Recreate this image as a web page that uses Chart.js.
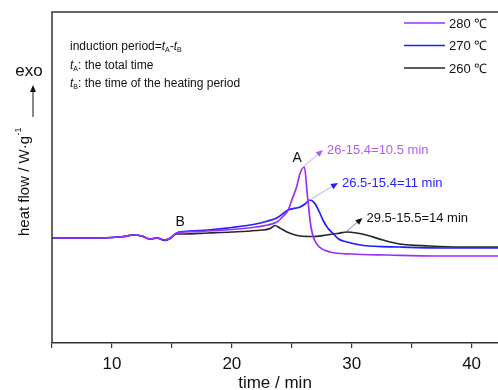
<!DOCTYPE html>
<html>
<head>
<meta charset="utf-8">
<script src="https://cdn.jsdelivr.net/npm/chart.js@4.4.1/dist/chart.umd.min.js"></script>
<style>
  html, body { margin: 0; padding: 0; background: #fff; }
  canvas { display: block; }
</style>
</head>
<body>
<canvas id="dscChart" width="498" height="390"></canvas>
<script>
// DSC heat flow curves (arbitrary units, exo up), time in min
const t280 = [5, 8, 10, 11, 11.75, 12.5, 13.2, 13.75, 14.4, 14.8, 15.4, 16, 18, 20, 22, 23, 23.75, 24.3, 24.7, 25.0, 25.4, 25.7, 26.05, 26.3, 26.6, 26.9, 27.3, 28.2, 30, 33, 37, 42.2];
const q280 = [105, 105, 105.5, 106.5, 108, 107, 104, 105, 103, 104.5, 110, 111, 112, 113.5, 116, 118, 121, 127, 133, 143, 156, 170, 176, 148, 116, 103, 96, 91, 89, 88, 87, 87];

const t270 = [5, 8, 10, 11, 11.75, 12.5, 13.2, 13.75, 14.4, 14.8, 15.4, 16, 18, 20, 22, 23, 23.75, 24.7, 25.7, 26.1, 26.5, 26.9, 27.3, 27.6, 28.0, 28.4, 28.9, 29.6, 31, 34, 38, 42.2];
const q270 = [105, 105, 105.5, 106.5, 108, 107, 104, 105, 103, 104.5, 110, 111.5, 113, 115.5, 119, 122, 125, 133, 136, 139, 143, 140, 131, 123, 115, 110, 104, 101, 97.5, 96, 95, 95];

const t260 = [5, 8, 10, 11, 11.75, 12.5, 13.2, 13.75, 14.4, 14.8, 15.4, 16, 18, 20, 22, 23.2, 23.6, 24.0, 24.6, 25.7, 26.8, 27.9, 28.8, 29.6, 30.4, 31.2, 32.6, 34, 36.5, 39, 42.2];
const q260 = [105, 105, 105.5, 106.5, 108, 107, 104, 105, 102.5, 104, 109, 109, 110, 111, 112.5, 114.5, 117.5, 115, 111, 107, 106.5, 108, 109.5, 111, 110, 108, 103, 99, 97, 96, 96];

const seriesLabels = ['280 \u2103', '270 \u2103', '260 \u2103'];
const seriesColors = ['#9b30f5', '#1f1fff', '#262626'];
const xTickValues = [5, 10, 15, 20, 25, 30, 35, 40];
const xLabelValues = [10, 20, 30, 40];

// annotations: arrow from a curve point to the text
const calloutText = ['26-15.4=10.5 min', '26.5-15.4=11 min', '29.5-15.5=14 min'];
const calloutFrom = [[26.05, 177], [26.5, 143], [29.5, 111]];
const calloutTo = [[27.6, 193], [28.85, 160], [30.9, 125]];
const calloutTextColors = ['#b05cf2', '#1f1fff', '#111'];
const calloutLineColors = ['#cfa6f7', '#a9aefc', '#8a8a8a'];
const pointLabels = [['A', 25.45, 185], ['B', 15.7, 121]];

function toPoints(xs, ys) {
  return xs.map((x, i) => ({ x: x, y: ys[i] }));
}

function arrow(ctx, x1, y1, x2, y2, lineColor, headColor) {
  const ang = Math.atan2(y2 - y1, x2 - x1);
  const hl = 7, hw = 3;
  ctx.strokeStyle = lineColor;
  ctx.lineWidth = 1;
  ctx.beginPath();
  ctx.moveTo(x1, y1);
  ctx.lineTo(x2 - hl * Math.cos(ang), y2 - hl * Math.sin(ang));
  ctx.stroke();
  ctx.fillStyle = headColor;
  ctx.beginPath();
  ctx.moveTo(x2, y2);
  ctx.lineTo(x2 - hl * Math.cos(ang) + hw * Math.sin(ang), y2 - hl * Math.sin(ang) - hw * Math.cos(ang));
  ctx.lineTo(x2 - hl * Math.cos(ang) - hw * Math.sin(ang), y2 - hl * Math.sin(ang) + hw * Math.cos(ang));
  ctx.closePath();
  ctx.fill();
}

// draws "t" italic with a small subscript, returns new x
function tSub(ctx, x, y, sub) {
  ctx.font = 'italic 12px "Liberation Sans", Arial, sans-serif';
  ctx.fillText('t', x, y);
  x += ctx.measureText('t').width;
  ctx.font = '7px "Liberation Sans", Arial, sans-serif';
  ctx.fillText(sub, x, y + 3);
  return x + ctx.measureText(sub).width;
}

const decorPlugin = {
  id: 'decor',
  afterDraw(chart) {
    const { ctx, chartArea: a, scales } = chart;
    const xs = scales.x, ys = scales.y;
    ctx.save();

    // frame: left and top lines
    ctx.strokeStyle = '#333';
    ctx.lineWidth = 1.5;
    ctx.beginPath();
    ctx.moveTo(a.left, a.bottom);
    ctx.lineTo(a.left, a.top);
    ctx.lineTo(a.right, a.top);
    ctx.stroke();

    // callouts
    ctx.textBaseline = 'middle';
    ctx.textAlign = 'left';
    calloutText.forEach((txt, i) => {
      const x1 = xs.getPixelForValue(calloutFrom[i][0]), y1 = ys.getPixelForValue(calloutFrom[i][1]);
      const x2 = xs.getPixelForValue(calloutTo[i][0]), y2 = ys.getPixelForValue(calloutTo[i][1]);
      arrow(ctx, x1, y1, x2, y2, calloutLineColors[i], calloutTextColors[i]);
      ctx.fillStyle = calloutTextColors[i];
      ctx.font = '13px "Liberation Sans", Arial, sans-serif';
      ctx.fillText(txt, x2 + 4, y2);
    });

    // point labels A, B
    ctx.fillStyle = '#111';
    ctx.font = '14px "Liberation Sans", Arial, sans-serif';
    ctx.textAlign = 'center';
    pointLabels.forEach(p => {
      ctx.fillText(p[0], xs.getPixelForValue(p[1]), ys.getPixelForValue(p[2]));
    });

    // legend
    ctx.textAlign = 'left';
    ctx.font = '13px "Liberation Sans", Arial, sans-serif';
    seriesLabels.forEach((lab, i) => {
      const y = 23 + i * 22.5;
      ctx.strokeStyle = seriesColors[i];
      ctx.lineWidth = 1.5;
      ctx.beginPath();
      ctx.moveTo(404, y);
      ctx.lineTo(445, y);
      ctx.stroke();
      ctx.fillStyle = '#111';
      ctx.fillText(lab, 449, y + 1);
    });

    // induction period note
    ctx.fillStyle = '#111';
    ctx.textBaseline = 'middle';
    let x = 70;
    ctx.font = '12px "Liberation Sans", Arial, sans-serif';
    ctx.fillText('induction period=', x, 47);
    x += ctx.measureText('induction period=').width;
    x = tSub(ctx, x, 47, 'A');
    ctx.font = '12px "Liberation Sans", Arial, sans-serif';
    ctx.fillText('-', x, 47);
    x += ctx.measureText('-').width;
    tSub(ctx, x, 47, 'B');

    x = tSub(ctx, 70, 66, 'A');
    ctx.font = '12px "Liberation Sans", Arial, sans-serif';
    ctx.fillText(': the total time', x, 66);

    x = tSub(ctx, 70, 84, 'B');
    ctx.font = '12px "Liberation Sans", Arial, sans-serif';
    ctx.fillText(': the time of the heating period', x, 84);

    // exo arrow
    ctx.textAlign = 'center';
    ctx.font = '17px "Liberation Sans", Arial, sans-serif';
    ctx.fillText('exo', 29, 71);
    arrow(ctx, 33, 117, 33, 85, '#111', '#111');

    // y axis title (rotated)
    ctx.translate(25, 182);
    ctx.rotate(-Math.PI / 2);
    ctx.font = '15px "Liberation Sans", Arial, sans-serif';
    const main = 'heat flow / W\u00b7g';
    const wMain = ctx.measureText(main).width;
    ctx.font = '9px "Liberation Sans", Arial, sans-serif';
    const wSup = ctx.measureText('-1').width;
    const start = -(wMain + wSup) / 2;
    ctx.textAlign = 'left';
    ctx.font = '15px "Liberation Sans", Arial, sans-serif';
    ctx.fillText(main, start, 0);
    ctx.font = '9px "Liberation Sans", Arial, sans-serif';
    ctx.fillText('-1', start + wMain + 0.5, -6);

    ctx.restore();
  }
};

new Chart(document.getElementById('dscChart').getContext('2d'), {
  type: 'line',
  data: {
    datasets: [
      { label: seriesLabels[0], data: toPoints(t280, q280), borderColor: seriesColors[0] },
      { label: seriesLabels[1], data: toPoints(t270, q270), borderColor: seriesColors[1] },
      { label: seriesLabels[2], data: toPoints(t260, q260), borderColor: seriesColors[2] }
    ]
  },
  options: {
    responsive: false,
    animation: false,
    layout: { padding: { left: 52, top: 12, right: 0, bottom: 0 } },
    elements: {
      point: { radius: 0 },
      line: { borderWidth: 1.7, cubicInterpolationMode: 'monotone', fill: false }
    },
    plugins: { legend: { display: false }, tooltip: { enabled: false } },
    scales: {
      x: {
        type: 'linear',
        min: 5,
        max: 42.2,
        afterBuildTicks: (scale) => { scale.ticks = xTickValues.map(v => ({ value: v })); },
        afterFit: (scale) => { scale.height = 47; },
        ticks: {
          autoSkip: false,
          maxRotation: 0,
          padding: 6,
          color: '#111',
          font: { family: '"Liberation Sans", Arial, sans-serif', size: 17 },
          callback: (v) => xLabelValues.includes(v) ? String(v) : ''
        },
        grid: { drawOnChartArea: false, drawTicks: true, tickLength: 5, color: '#333', lineWidth: 1.2 },
        border: { display: true, color: '#333', width: 1.5 },
        title: {
          display: true,
          text: 'time / min',
          color: '#111',
          padding: { top: 0, bottom: -4 },
          font: { family: '"Liberation Sans", Arial, sans-serif', size: 17 }
        }
      },
      y: {
        display: false,
        min: 0,
        max: 331
      }
    }
  },
  plugins: [decorPlugin]
});
</script>
</body>
</html>
